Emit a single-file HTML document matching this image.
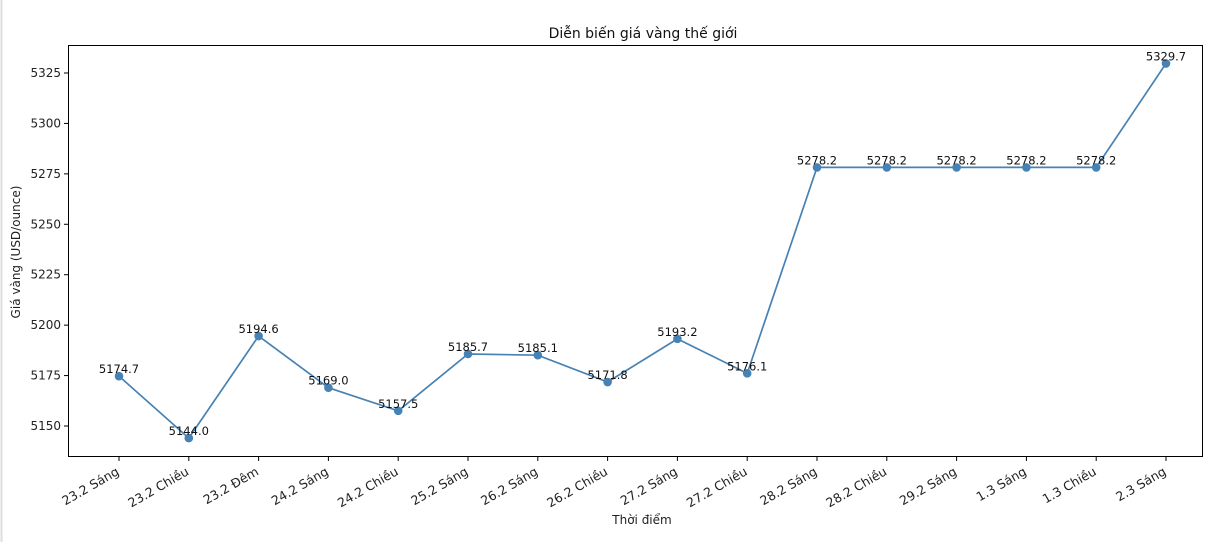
<!DOCTYPE html>
<html><head><meta charset="utf-8"><style>
body{margin:0;background:#fff;font-family:"Liberation Sans","DejaVu Sans",sans-serif}
svg text{font-family:"DejaVu Sans","Liberation Sans",sans-serif}
</style></head><body>
<svg id="c" width="1226" height="542" xmlns="http://www.w3.org/2000/svg">
<rect x="0" y="0" width="1226" height="542" fill="#fff"/>
<line x1="1.5" y1="0" x2="1.5" y2="542" stroke="#ddd" stroke-width="2"/>
<text x="643" y="38" font-size="14" text-anchor="middle" fill="#111">Diễn biến giá vàng thế giới</text>
<text x="642" y="524" font-size="12" text-anchor="middle" fill="#222">Thời điểm</text>
<text transform="translate(20,252) rotate(-90)" font-size="12" text-anchor="middle" fill="#222">Giá vàng (USD/ounce)</text>
<g id="g"></g>
<rect x="68.5" y="45.5" width="1134" height="411" fill="none" stroke="#000" stroke-width="1"/>
</svg>
<script>
const categories=["23.2 Sáng","23.2 Chiều","23.2 Đêm","24.2 Sáng","24.2 Chiều","25.2 Sáng","26.2 Sáng","26.2 Chiều","27.2 Sáng","27.2 Chiều","28.2 Sáng","28.2 Chiều","29.2 Sáng","1.3 Sáng","1.3 Chiều","2.3 Sáng"];
const prices=[5174.7,5144.0,5194.6,5169.0,5157.5,5185.7,5185.1,5171.8,5193.2,5176.1,5278.2,5278.2,5278.2,5278.2,5278.2,5329.7];
const yTicks=[5150,5175,5200,5225,5250,5275,5300,5325];
const NS="http://www.w3.org/2000/svg";
const g=document.getElementById('g');
function x(i){return 119+i*(1166-119)/(categories.length-1);}
function y(v){return 426-(v-5150)*(353/175);}
function el(t,a,p){const e=document.createElementNS(NS,t);for(const k in a)e.setAttribute(k,a[k]);(p||g).appendChild(e);return e;}
yTicks.forEach(v=>{
 const t=el('line',{x1:64,x2:68,y1:y(v),y2:y(v),stroke:'#000'});
 
 
 const l=el('text',{x:61,y:y(v)+4,'font-size':12,'text-anchor':'end',fill:'#222'});
 l.textContent=v;
 
 
});
categories.forEach((c,i)=>{
 const t=el('line',{x1:x(i),x2:x(i),y1:457,y2:461,stroke:'#000'});
 
 
 const l=el('text',{transform:`translate(${x(i)+1},${474}) rotate(-30)`,'font-size':12.5,'text-anchor':'end',fill:'#222'});
 l.textContent=c;
 
 
});
const line=el('polyline',{points:prices.map((v,i)=>x(i)+','+y(v)).join(' '),fill:'none',stroke:'#4682b4','stroke-width':1.7});


prices.forEach((v,i)=>{
 const p=el('circle',{cx:x(i),cy:y(v),r:4.3,fill:'#4682b4'});
 
 
 const l=el('text',{x:x(i),y:y(v)-3,'font-size':11.5,'text-anchor':'middle',fill:'#111'});
 l.textContent=v.toFixed(1);
 
 
});
</script>
</body></html>
